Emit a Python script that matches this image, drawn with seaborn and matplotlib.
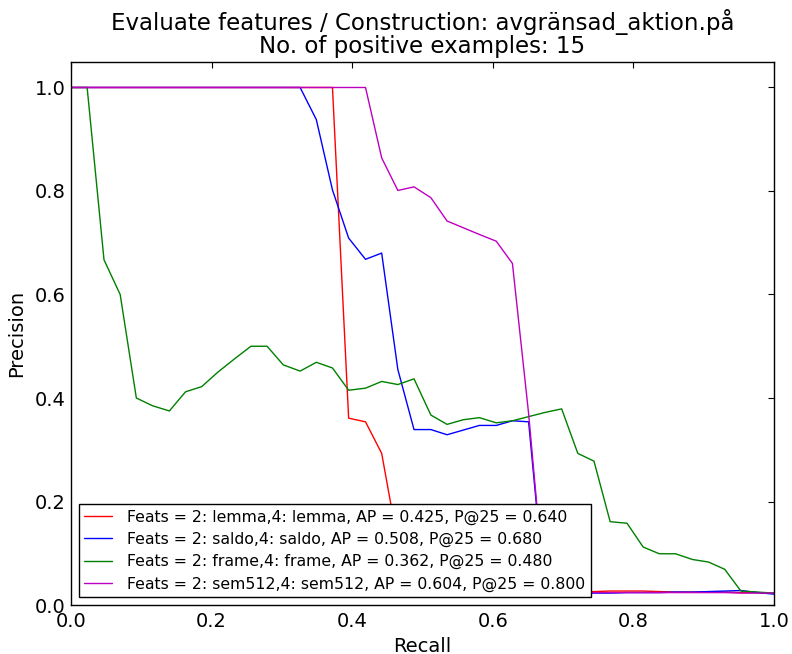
import numpy as np
import pandas as pd
import matplotlib
matplotlib.use("Agg")
import matplotlib.pyplot as plt
import seaborn as sns

# Recall points (shared by all series)
recall = [0.000, 0.023, 0.047, 0.070, 0.093, 0.116, 0.140, 0.163, 0.186, 0.209,
          0.233, 0.256, 0.279, 0.302, 0.326, 0.349, 0.372, 0.395, 0.419, 0.442,
          0.465, 0.488, 0.512, 0.535, 0.558, 0.581, 0.605, 0.628, 0.651, 0.674,
          0.698, 0.721, 0.744, 0.767, 0.791, 0.814, 0.837, 0.860, 0.884, 0.907,
          0.930, 0.953, 0.977, 1.000]

prec_lemma = [1.0, 1.0, 1.0, 1.0, 1.0, 1.0, 1.0, 1.0, 1.0, 1.0,
              1.0, 1.0, 1.0, 1.0, 1.0, 1.0, 1.0, 0.361, 0.354, 0.293,
              0.120, 0.040, 0.031, 0.028, 0.027, 0.026, 0.026, 0.026, 0.025, 0.025,
              0.025, 0.025, 0.026, 0.027, 0.027, 0.027, 0.026, 0.025, 0.025, 0.025,
              0.025, 0.024, 0.024, 0.023]

prec_saldo = [1.0, 1.0, 1.0, 1.0, 1.0, 1.0, 1.0, 1.0, 1.0, 1.0,
              1.0, 1.0, 1.0, 1.0, 1.0, 0.938, 0.802, 0.709, 0.668, 0.680,
              0.455, 0.339, 0.339, 0.329, 0.338, 0.347, 0.347, 0.356, 0.354, 0.022,
              0.022, 0.023, 0.023, 0.023, 0.024, 0.024, 0.024, 0.025, 0.025, 0.026,
              0.027, 0.028, 0.024, 0.021]

prec_frame = [1.0, 1.0, 0.667, 0.600, 0.400, 0.385, 0.375, 0.412, 0.422, 0.450,
              0.476, 0.500, 0.500, 0.464, 0.452, 0.469, 0.458, 0.415, 0.419, 0.432,
              0.426, 0.437, 0.367, 0.349, 0.358, 0.362, 0.352, 0.356, 0.364, 0.372,
              0.379, 0.293, 0.278, 0.161, 0.158, 0.112, 0.099, 0.099, 0.088, 0.083,
              0.069, 0.027, 0.025, 0.023]

prec_sem512 = [1.0, 1.0, 1.0, 1.0, 1.0, 1.0, 1.0, 1.0, 1.0, 1.0,
               1.0, 1.0, 1.0, 1.0, 1.0, 1.0, 1.0, 1.0, 1.0, 0.864,
               0.801, 0.808, 0.787, 0.742, 0.729, 0.716, 0.703, 0.660, 0.370, 0.023,
               0.023, 0.023, 0.024, 0.024, 0.024, 0.024, 0.024, 0.024, 0.024, 0.024,
               0.024, 0.023, 0.023, 0.023]

labels = [
    "Feats = 2: lemma,4: lemma, AP = 0.425, P@25 = 0.640",
    "Feats = 2: saldo,4: saldo, AP = 0.508, P@25 = 0.680",
    "Feats = 2: frame,4: frame, AP = 0.362, P@25 = 0.480",
    "Feats = 2: sem512,4: sem512, AP = 0.604, P@25 = 0.800",
]
colors = ["#ff0000", "#0000ff", "#008000", "#bf00bf"]

title = "Evaluate features / Construction: avgränsad_aktion.på\nNo. of positive examples: 15"

frames = []
for lab, p in zip(labels, [prec_lemma, prec_saldo, prec_frame, prec_sem512]):
    frames.append(pd.DataFrame({"Recall": recall, "Precision": p, "series": lab}))
df = pd.concat(frames, ignore_index=True)

sns.set_style("white")
plt.rcParams["font.family"] = ["DejaVu Sans"]
plt.rcParams.update({
    "text.color": "black", "axes.labelcolor": "black",
    "xtick.direction": "in", "ytick.direction": "in",
    "xtick.top": True, "ytick.right": True,
    "xtick.major.size": 4, "ytick.major.size": 4,
    "xtick.major.width": 0.8, "ytick.major.width": 0.8,
    "xtick.color": "black", "ytick.color": "black",
    "xtick.labelcolor": "black", "ytick.labelcolor": "black",
    "axes.edgecolor": "black", "axes.linewidth": 1.0,
})

fig = plt.figure(figsize=(7.92, 6.54), dpi=100)
ax = fig.add_axes([0.0896, 0.0749, 0.8876, 0.8309])

sns.lineplot(data=df, x="Recall", y="Precision", hue="series", hue_order=labels,
             palette=colors, sort=False, estimator=None, linewidth=1.0, ax=ax)

ax.set_xlim(0, 1.0)
ax.set_ylim(0, 1.05)
ax.set_xticks([0.0, 0.2, 0.4, 0.6, 0.8, 1.0])
ax.set_yticks([0.0, 0.2, 0.4, 0.6, 0.8, 1.0])
ax.tick_params(axis="x", labelsize=14, pad=5)
ax.tick_params(axis="y", labelsize=14, pad=4)
ax.set_xlabel("Recall", fontsize=14, labelpad=4)
ax.set_ylabel("Precision", fontsize=14, labelpad=6)
ax.set_title(title, fontsize=16.5, pad=6, linespacing=1.0)
for s in ax.spines.values():
    s.set_visible(True)
    s.set_color("black")

leg = ax.legend(loc="lower left", fontsize=11.3, frameon=True, fancybox=False,
                framealpha=1.0, edgecolor="black", handlelength=1.75,
                handletextpad=1.0, borderaxespad=0.5, labelspacing=0.45,
                borderpad=0.35)
leg.get_frame().set_linewidth(1.0)

fig.savefig("out.png", dpi=100)
